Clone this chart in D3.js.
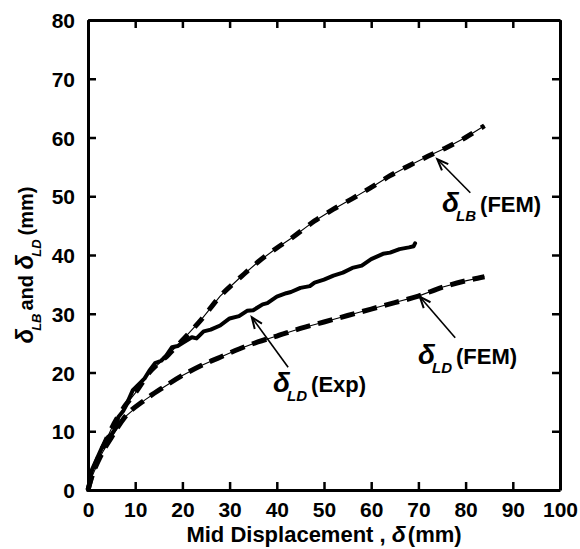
<!DOCTYPE html>
<html><head><meta charset="utf-8">
<script src="https://cdn.jsdelivr.net/npm/d3@7"></script>
<style>body{margin:0;background:#fff}</style></head>
<body>
<svg id="c" width="580" height="549"></svg>
<script>
const xTicks=[0,10,20,30,40,50,60,70,80,90,100];
const yTicks=[0,10,20,30,40,50,60,70,80];

// δLB (FEM)
const lbFemX=[0,1,3,5,8,10,13,17,20,24,28,32,36,40,43,48,52,56,60,64,68,72,76,80,84];
const lbFemY=[0,3,7,10.5,14.5,16.5,20,23,25.5,29,33,36,38.8,41.2,42.8,45.8,47.8,49.6,51.5,53.5,55.2,56.8,58.3,60,62];

// δLD (FEM)
const ldFemX=[0,0.8,3,5,7.8,12,16,20,24,28,32,36,40,45,50,55,60,65,70,75,80,84];
const ldFemY=[0,2.2,6.3,9,12.4,15.3,17.5,19.5,21.2,22.6,24,25.2,26.2,27.5,28.6,29.7,30.8,31.9,33,34.5,35.6,36.3];

// δLD (Exp)
const ldExpX=[0,0.8,2,3,4.2,5,6,6.4,7.5,8,9.5,11,12,13,14.2,15.5,16.5,17.8,19,20,22,23,24.5,26,28,30,32,33.7,35,37,38,40,42,43,45,47,48,50,52,54,56,58,60,62.5,64,66,68,69,69.3];
const ldExpY=[0,3.4,5.5,7.3,9,9.5,10.7,12.4,13.5,14.3,17,18.2,19,20.3,21.6,22,22.8,24.3,24.5,25,26,25.8,27,27.3,28,29.2,29.6,30.5,30.6,31.6,31.8,32.9,33.5,33.7,34.4,34.7,35.3,35.8,36.5,37,37.8,38.2,39.3,40.2,40.4,41,41.3,41.5,42];

const FONT='"Liberation Sans", Arial, Helvetica, sans-serif';
const svg=d3.select('#c');
const x=d3.scaleLinear().domain([0,100]).range([88,560]);
const y=d3.scaleLinear().domain([0,80]).range([490,20]);

function styleAxis(g){
  g.select('.domain').attr('stroke','#000').attr('stroke-width',3);
  g.selectAll('.tick line').attr('stroke','#000').attr('stroke-width',2.5);
  g.selectAll('.tick text').attr('font-family',FONT).attr('font-weight','bold')
    .attr('font-size',21).attr('fill','#000');
}
svg.append('g').attr('transform','translate(0,490)')
  .call(d3.axisBottom(x).tickValues(xTicks).tickSizeInner(-8).tickSizeOuter(0).tickPadding(12).tickFormat(d3.format('d')))
  .call(styleAxis);
svg.append('g').attr('transform','translate(0,20)')
  .call(d3.axisTop(x).tickValues(xTicks).tickSizeInner(-8).tickSizeOuter(0).tickFormat(''))
  .call(styleAxis);
svg.append('g').attr('transform','translate(88,0)')
  .call(d3.axisLeft(y).tickValues(yTicks).tickSizeInner(-8).tickSizeOuter(0).tickPadding(13).tickFormat(d3.format('d')))
  .call(styleAxis);
svg.append('g').attr('transform','translate(560,0)')
  .call(d3.axisRight(y).tickValues(yTicks).tickSizeInner(-8).tickSizeOuter(0).tickFormat(''))
  .call(styleAxis);
svg.selectAll('.tick text').each(function(){
  const t=d3.select(this);
  if(t.attr('y')!==null && +t.attr('y')>0){ t.attr('dy','0.71em'); }
  else { t.attr('dy','0.36em'); }
});

const line=d3.line().x(d=>x(d[0])).y(d=>y(d[1])).curve(d3.curveLinear);
const zip=(a,b)=>a.map((v,i)=>[v,b[i]]);

function femLine(xs,ys,dash){
  const pts=zip(xs,ys);
  svg.append('path').attr('d',line(pts)).attr('fill','none').attr('stroke','#000').attr('stroke-width',1.1);
  svg.append('path').attr('d',d3.line().x(d=>x(d[0])).y(d=>y(d[1])).curve(d3.curveMonotoneX)(pts))
    .attr('fill','none').attr('stroke','#000').attr('stroke-width',5)
    .attr('stroke-dasharray',dash).attr('stroke-linecap','butt');
}
femLine(lbFemX,lbFemY,'12,10');
femLine(ldFemX,ldFemY,'15,8');

svg.append('path').attr('d',line(zip(ldExpX,ldExpY))).attr('fill','none')
  .attr('stroke','#000').attr('stroke-width',4).attr('stroke-linejoin','round').attr('stroke-linecap','round');

// annotations (data units)
const notes=[
  {sub:'LB',tail:'(FEM)',lx:75,ly:47.3,tip:[74,56.3],from:[81,50.6]},
  {sub:'LD',tail:'(Exp)',lx:39.2,ly:16.7,tip:[34.7,29.4],from:[42.4,20.9]},
  {sub:'LD',tail:'(FEM)',lx:69.9,ly:21.4,tip:[70.3,32.9],from:[77.8,25.9]}
];
notes.forEach(n=>{
  const t=svg.append('text').attr('x',x(n.lx)).attr('y',y(n.ly))
    .attr('font-family',FONT).attr('font-weight','bold').attr('fill','#000');
  t.append('tspan').attr('font-style','italic').attr('font-size',28).text('δ');
  t.append('tspan').attr('font-style','italic').attr('font-size',15).attr('dy',9).attr('dx',-3).text(n.sub);
  t.append('tspan').attr('font-size',22).attr('dy',-9).attr('dx',4).text(n.tail);
  const x1=x(n.from[0]),y1=y(n.from[1]),x2=x(n.tip[0]),y2=y(n.tip[1]);
  svg.append('line').attr('x1',x1).attr('y1',y1).attr('x2',x2).attr('y2',y2)
    .attr('stroke','#000').attr('stroke-width',1.6);
  const a=Math.atan2(y2-y1,x2-x1), L=12, s=0.38;
  const p1=[x2-L*Math.cos(a-s),y2-L*Math.sin(a-s)], p2=[x2-L*Math.cos(a+s),y2-L*Math.sin(a+s)];
  svg.append('path').attr('d',`M${p1[0]},${p1[1]}L${x2},${y2}L${p2[0]},${p2[1]}`)
    .attr('fill','none').attr('stroke','#000').attr('stroke-width',2);
});

// axis titles
const xt=svg.append('text').attr('x',324).attr('y',542).attr('text-anchor','middle')
  .attr('font-family',FONT).attr('font-weight','bold').attr('font-size',22).attr('fill','#000');
xt.append('tspan').text('Mid Displacement , ');
xt.append('tspan').attr('font-style','italic').attr('font-size',23).text('δ');
xt.append('tspan').attr('dx',2).text('(mm)');

const yt=svg.append('text').attr('transform','translate(33,265) rotate(-90)').attr('text-anchor','middle')
  .attr('font-family',FONT).attr('font-weight','bold').attr('font-size',20).attr('fill','#000');
yt.append('tspan').attr('font-style','italic').attr('font-size',24).text('δ');
yt.append('tspan').attr('font-style','italic').attr('font-size',13).attr('dy',8).attr('dx',-2).text('LB');
yt.append('tspan').attr('dy',-8).attr('dx',3).text('and ');
yt.append('tspan').attr('font-style','italic').attr('font-size',24).text('δ');
yt.append('tspan').attr('font-style','italic').attr('font-size',13).attr('dy',8).attr('dx',-2).text('LD');
yt.append('tspan').attr('dy',-8).attr('dx',4).text('(mm)');
</script>
</body></html>
